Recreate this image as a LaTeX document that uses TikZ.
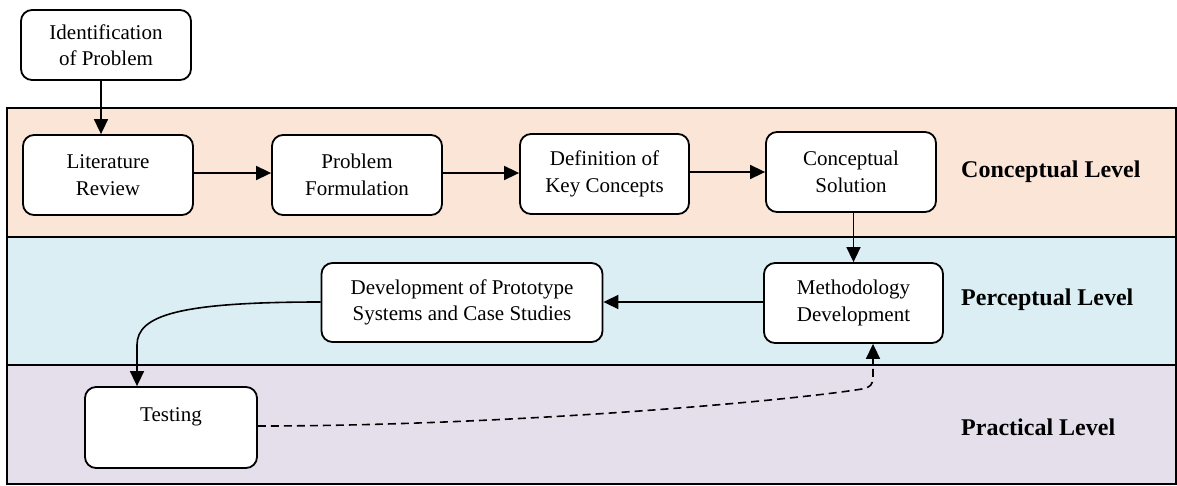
\documentclass[tikz,border=0pt]{standalone}
\usepackage{fontspec}
\setmainfont{Liberation Serif}
\usetikzlibrary{arrows.meta}

\definecolor{conceptual}{HTML}{FBE5D6}
\definecolor{perceptual}{HTML}{DAEEF3}
\definecolor{practical}{HTML}{E5DFEC}

\tikzset{
  stepbox/.style={draw, line width=1.8pt, rounded corners=11pt, fill=white,
    align=center, inner sep=0pt, font=\fontsize{21}{26.5}\selectfont},
  levellabel/.style={anchor=west, inner sep=0pt, font=\fontsize{24}{28}\selectfont\bfseries},
  flow/.style={line width=1.6pt, -{Triangle[length=15pt,width=14pt]}},
  band/.style={line width=1.5pt, draw=black}
}

\begin{document}
\begin{tikzpicture}[x=1pt, y=-1pt]
  \useasboundingbox (0,0) rectangle (1177,485);

  % the three level bands
  \fill[conceptual] (7,108) rectangle (1176,237);
  \fill[perceptual] (7,237) rectangle (1176,365);
  \fill[practical]  (7,365) rectangle (1176,484);
  \draw[band] (7,108) rectangle (1176,484);
  \draw[band] (7,237) -- (1176,237);
  \draw[band] (7,365) -- (1176,365);

  % level labels
  \node[levellabel] (lvc) at (961,172) {Conceptual Level};
  \node[levellabel] (lvp) at (961,300) {Perceptual Level};
  \node[levellabel] (lvr) at (961,427) {Practical Level};

  % process steps
  \node[stepbox, minimum width=170pt, minimum height=70pt] (idp) at (106,45) {Identification\\of Problem};
  \node[stepbox, minimum width=170pt, minimum height=80pt] (lit) at (108,175) {Literature\\Review};
  \node[stepbox, minimum width=170pt, minimum height=80pt] (pf)  at (357,175) {Problem\\Formulation};
  \node[stepbox, minimum width=169pt, minimum height=80pt] (dkc) at (604.5,174) {Definition of\\Key Concepts};
  \node[stepbox, minimum width=170pt, minimum height=80pt] (cs)  at (851,172) {Conceptual\\Solution};
  \node[stepbox, minimum width=179pt, minimum height=80pt] (md)  at (853.5,303) {Methodology\\Development};
  \node[stepbox, minimum width=281pt, minimum height=79pt] (dps) at (462,302.5) {Development of Prototype\\Systems and Case Studies};
  \node[stepbox, minimum width=172pt, minimum height=81pt, text height=15pt, text depth=28pt] (tst) at (171,427.5) {Testing};

  % connectors
  \coordinate (lrow) at (0,173);
  \coordinate (mrow) at (0,302);
  \draw[flow] ([xshift=-5pt]idp.south) -- ([xshift=-7pt]lit.north);
  \draw[flow] (lit.east |- lrow) -- (pf.west |- lrow);
  \draw[flow] (pf.east |- lrow) -- (dkc.west |- lrow);
  \draw[flow] (dkc.east |- cs.west) -- (cs.west);
  \draw[flow] (cs.south -| md.north) -- (md.north);
  \draw[flow] (md.west |- mrow) -- (dps.east |- mrow);
  \draw[flow] (dps.west |- mrow) .. controls (180,302) and (137,315) .. (137,345)
              -- ([xshift=-34pt]tst.north);
  \draw[flow, dash pattern=on 8pt off 5pt]
        (tst.east |- 0,426) .. controls (500,426) and (780,402) .. (862,389)
        .. controls (870,387.5) and (873,385) .. (873,377)
        -- ([xshift=19.5pt]md.south);
\end{tikzpicture}
\end{document}
